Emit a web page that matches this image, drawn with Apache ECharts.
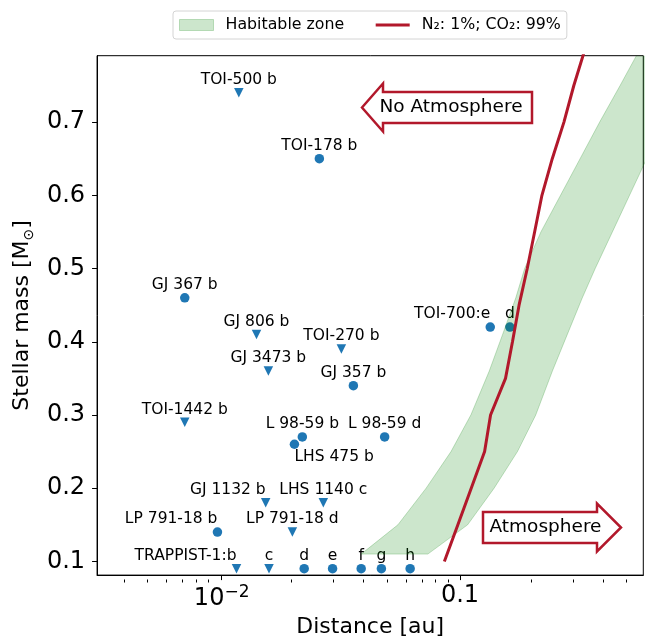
<!DOCTYPE html>
<html><head><meta charset="utf-8">
<script src="https://cdn.jsdelivr.net/npm/echarts@6/dist/echarts.min.js"></script>
<style>html,body{margin:0;padding:0;background:#fff}#c{width:645px;height:643px}</style>
</head><body><div id="c"></div>
<script>
// ---- data ----
const planetLabels = ['TOI-500 b','TOI-178 b','GJ 367 b','GJ 806 b','TOI-270 b','GJ 3473 b','GJ 357 b','TOI-1442 b','L 98-59 b','LHS 475 b','L 98-59 d','TOI-700:e','d','GJ 1132 b','LHS 1140 c','LP 791-18 b','LP 791-18 d','TRAPPIST-1:b','c','d','e','f','g','h'];
const planetDistance = [0.0118,0.0257,0.0070,0.0140,0.0318,0.0157,0.0357,0.0070,0.0218,0.0202,0.0483,0.134,0.162,0.0153,0.0267,0.0096,0.0198,0.01154,0.0158,0.0222,0.0292,0.0385,0.0468,0.0618];
const planetMass = [0.74,0.65,0.46,0.41,0.39,0.36,0.34,0.29,0.27,0.26,0.27,0.42,0.42,0.18,0.18,0.14,0.14,0.09,0.09,0.09,0.09,0.09,0.09,0.09];
const planetIsLimit = [true,false,false,true,true,true,false,true,false,false,false,false,false,true,true,false,true,true,true,false,false,false,false,false];

const hzMass  = [0.11,0.15,0.20,0.25,0.30,0.36,0.41,0.46,0.50,0.55,0.60,0.65,0.70,0.75,0.80];
const hzInner = [0.0385,0.0549,0.0721,0.0917,0.1111,0.1327,0.1510,0.1715,0.1868,0.2186,0.2642,0.3192,0.3856,0.470,0.570];
const hzOuter = [0.0733,0.1077,0.1391,0.1743,0.2080,0.2443,0.2822,0.3262,0.3694,0.4362,0.5148,0.6076,0.7172,0.8472,1.000];

const co2Mass = [0.10,0.15,0.20,0.25,0.30,0.35,0.40,0.45,0.50,0.55,0.60,0.65,0.70,0.75,0.80];
const co2Dist = [0.086,0.098,0.1115,0.1269,0.1344,0.1553,0.1661,0.177,0.1916,0.2057,0.2208,0.244,0.2731,0.3005,0.335];

const xMajorTicks = [0.01, 0.1];
const xMinorTicks = [0.004,0.005,0.006,0.007,0.008,0.009,0.02,0.03,0.04,0.05,0.06,0.07,0.08,0.09,0.2,0.3,0.4,0.5];
const yTicks = [0.1,0.2,0.3,0.4,0.5,0.6,0.7];

const seriesNames = ['Habitable zone', 'N\u2082: 1%; CO\u2082: 99%'];

// ---- styling ----
const FONT = 'DejaVu Sans';
const RED = '#b2182b';
const BLUE = '#1f77b4';
const HZ_FILL = 'rgba(0,128,0,0.2)';
const HZ_EDGE = 'rgba(0,128,0,0.22)';
const GRID = {left:94, right:1.7, top:55.7, bottom:63.5};
const XMIN = 0.003, XMAX = 0.588, YMIN = 0.0813, YMAX = 0.7907;

const specialLabels = {
  'LHS 475 b': {position:'bottom', align:'left', distance:0, offset:[-1,0]},
  'TOI-700:e': {position:'top', align:'right', offset:[4.8,0]},
  'TRAPPIST-1:b': {position:'top', align:'right', offset:[5.5,0]},
  'GJ 1132 b': {position:'top', align:'right', offset:[0,0]},
  'LP 791-18 b': {position:'top', align:'right', offset:[0,0]}
};

const scatterData = planetLabels.map((lab, i) => {
  const item = {
    value: [planetDistance[i], planetMass[i]],
    symbol: planetIsLimit[i] ? 'triangle' : 'circle',
    symbolRotate: planetIsLimit[i] ? 180 : 0
  };
  if (specialLabels[lab]) item.label = specialLabels[lab];
  return item;
});

const chart = echarts.init(document.getElementById('c'), null, {renderer:'canvas'});

const option = {
  animation: false,
  backgroundColor: '#fff',
  textStyle: {fontFamily: FONT},
  grid: [
    Object.assign({show:true, borderColor:'#000', borderWidth:1, backgroundColor:'transparent'}, GRID),
    Object.assign({show:false}, GRID)
  ],
  legend: {
    show: true, left: 173, top: 11, orient: 'horizontal',
    itemWidth: 34, itemHeight: 11, itemGap: 30,
    padding: [6, 6, 6, 6],
    borderColor: '#d4d4d4', borderWidth: 1, borderRadius: 3, backgroundColor: '#fff',
    selectedMode: false,
    textStyle: {fontFamily: FONT, fontSize: 15.8, color: '#000', padding: [0,0,0,7]},
    data: [
      {name: seriesNames[0], icon: 'rect', itemStyle: {color: HZ_FILL, borderColor: HZ_EDGE, borderWidth: 1}},
      {name: seriesNames[1], itemStyle: {opacity: 0}, lineStyle: {color: RED, width: 3}}
    ]
  },
  xAxis: [
    {
      type: 'log', logBase: 10, min: XMIN, max: XMAX, gridIndex: 0, position: 'bottom',
      name: 'Distance [au]', nameLocation: 'middle', nameGap: 38,
      nameTextStyle: {fontSize: 22, fontFamily: FONT, color: '#000'},
      axisLine: {show: true, lineStyle: {color: '#000', width: 1}},
      axisTick: {show: true, length: 5, lineStyle: {color: '#000', width: 1}, customValues: xMajorTicks},
      axisLabel: {
        show: true, margin: 9, customValues: xMajorTicks, color: '#000', fontFamily: FONT, fontSize: 24,
        formatter: function (v) {
          const e = Math.round(Math.log10(v));
          if (e === -2) return '{base|10}{sup|\u22122}';
          return '{plain|0.1}';
        },
        rich: {
          base: {fontSize: 24, lineHeight: 30, fontFamily: FONT, color: '#000'},
          sup: {fontSize: 17, lineHeight: 17, verticalAlign: 'top', fontFamily: FONT, color: '#000'},
          plain: {fontSize: 24, lineHeight: 23, fontFamily: FONT, color: '#000'}
        }
      },
      splitLine: {show: false}, minorTick: {show: false}, minorSplitLine: {show: false}
    },
    {
      type: 'log', logBase: 10, min: XMIN, max: XMAX, gridIndex: 1, position: 'bottom',
      axisLine: {show: false},
      axisTick: {show: true, length: 3, lineStyle: {color: '#000', width: 1}, customValues: xMinorTicks},
      axisLabel: {show: false},
      splitLine: {show: false}
    }
  ],
  yAxis: [
    {
      type: 'value', min: YMIN, max: YMAX, gridIndex: 0,
      name: 'Stellar mass [M{sub|\u2299}]', nameLocation: 'middle', nameGap: 58, nameRotate: 90,
      nameTextStyle: {fontSize: 22, fontFamily: FONT, color: '#000', lineHeight: 28,
        rich: {sub: {fontSize: 14, lineHeight: 14, verticalAlign: 'bottom', fontFamily: FONT, color: '#000'}}},
      axisLine: {show: true, lineStyle: {color: '#000', width: 1}},
      axisTick: {show: true, length: 5, lineStyle: {color: '#000', width: 1}, customValues: yTicks},
      axisLabel: {show: true, margin: 12, customValues: yTicks, fontSize: 24, fontFamily: FONT, color: '#000',
        formatter: v => v.toFixed(1)},
      splitLine: {show: false}
    },
    {
      type: 'value', min: YMIN, max: YMAX, gridIndex: 1, show: false
    }
  ],
  series: [
    {
      type: 'scatter', name: 'planets', xAxisIndex: 0, yAxisIndex: 0, z: 2,
      symbolSize: 9.5,
      itemStyle: {color: BLUE, opacity: 1},
      label: {show: true, position: 'top', distance: 0, fontSize: 15.5, fontFamily: FONT, color: '#000',
        formatter: p => planetLabels[p.dataIndex]},
      labelLayout: {hideOverlap: false},
      data: scatterData,
      silent: true
    },
    {
      type: 'custom', name: seriesNames[0], coordinateSystem: 'cartesian2d', xAxisIndex: 0, yAxisIndex: 0,
      clip: true, z: 3, silent: true,
      itemStyle: {color: HZ_FILL, borderColor: HZ_EDGE, borderWidth: 1},
      data: [[hzInner[0], hzMass[0]]],
      renderItem: function (params, api) {
        const pts = [];
        for (let i = 0; i < hzMass.length; i++) pts.push(api.coord([hzInner[i], hzMass[i]]));
        for (let i = hzMass.length - 1; i >= 0; i--) pts.push(api.coord([hzOuter[i], hzMass[i]]));
        return {type: 'polygon', shape: {points: pts}, style: {fill: HZ_FILL, stroke: HZ_EDGE, lineWidth: 1}};
      }
    },
    {
      type: 'line', name: seriesNames[1], xAxisIndex: 0, yAxisIndex: 0, z: 4,
      data: co2Mass.map((m, i) => [co2Dist[i], m]),
      symbol: 'none', showSymbol: false, clip: true, silent: true,
      lineStyle: {color: RED, width: 3}, itemStyle: {color: RED}
    }
  ],
  graphic: [
    {type: 'polygon', z: 100, shape: {points: [[362,107.5],[383,83.5],[383,92],[532,92],[532,123],[383,123],[383,131.5]]},
      style: {fill: '#fff', stroke: RED, lineWidth: 2.5, lineJoin: 'miter'}},
    {type: 'text', z: 101, x: 451, y: 107.5,
      style: {text: 'No Atmosphere', fontSize: 18.5, fontFamily: FONT, fill: '#000', align: 'center', verticalAlign: 'middle'}},
    {type: 'polygon', z: 100, shape: {points: [[483,512],[597,512],[597,503.5],[621,527.5],[597,551.5],[597,543],[483,543]]},
      style: {fill: '#fff', stroke: RED, lineWidth: 2.5, lineJoin: 'miter'}},
    {type: 'text', z: 101, x: 545.5, y: 527.5,
      style: {text: 'Atmosphere', fontSize: 18.5, fontFamily: FONT, fill: '#000', align: 'center', verticalAlign: 'middle'}}
  ]
};
chart.setOption(option);
</script>
</body></html>
